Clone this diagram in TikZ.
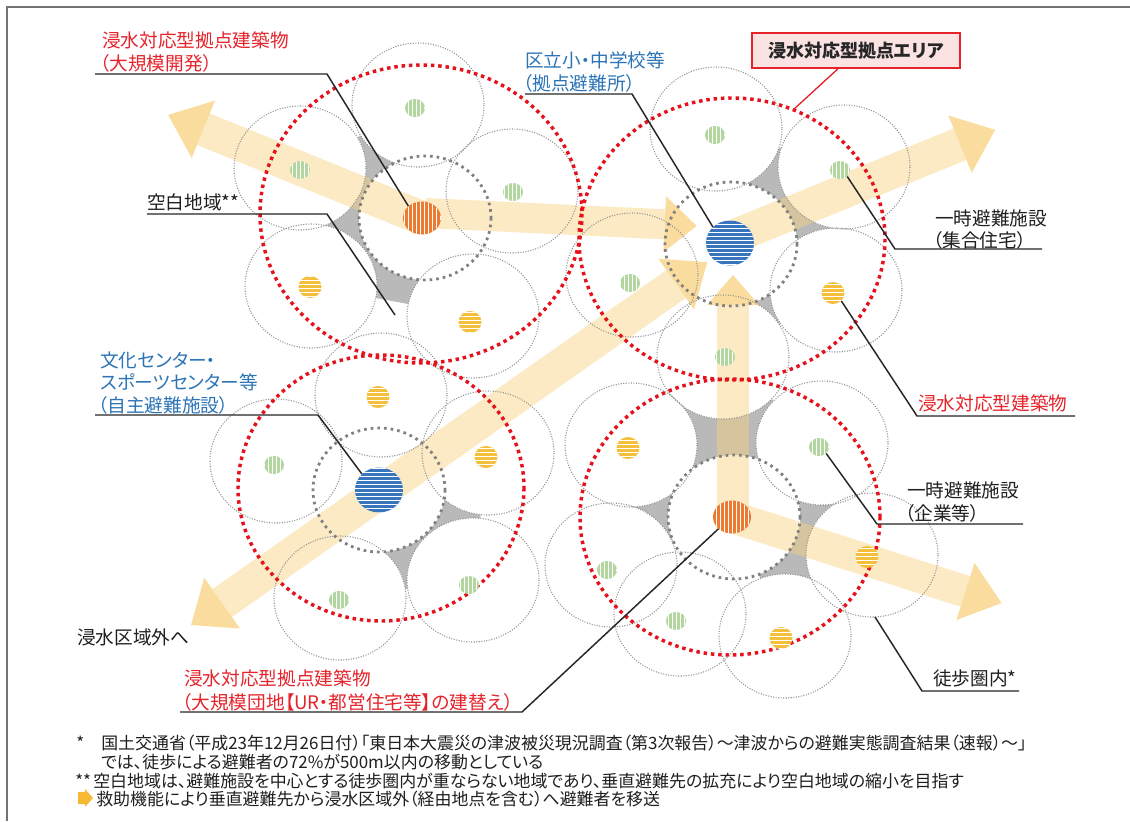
\documentclass[tikz,border=0pt]{standalone}
\usepackage{fontspec}
\newfontfamily\jp[RawFeature=+palt]{Noto Sans CJK JP}
\usetikzlibrary{patterns,shapes.geometric}
\definecolor{rd}{HTML}{E5121C}
\definecolor{lblred}{HTML}{E6232B}
\definecolor{lblblue}{HTML}{2C74B5}
\definecolor{arrc}{HTML}{F9D27E}
\definecolor{gapg}{HTML}{B9B9B9}
\definecolor{grn}{HTML}{B3D6A0}
\definecolor{ylw}{HTML}{F4BF3A}
\definecolor{org}{HTML}{EC7A30}
\definecolor{blu}{HTML}{3775BD}
\definecolor{boxpink}{HTML}{FBE3E3}
\tikzset{
  lightc/.style={draw=black!42, line width=0.8pt, dash pattern=on 0.8pt off 1.1pt},
  darkc/.style={draw=black!50, line width=2.1pt, dash pattern=on 2pt off 3pt},
  redc/.style={draw=rd, line width=2.6pt, dash pattern=on 2.6pt off 2.9pt},
  yshaft/.style={fill=arrc, fill opacity=0.45},
  yhead/.style={fill=arrc, fill opacity=0.75},
  dotbase/.style={ellipse, inner sep=0pt, draw=none},
  dotG/.style={dotbase, minimum width=15pt, minimum height=13.5pt, fill=grn, postaction={pattern=vertical lines, pattern color=white}},
  dotY/.style={dotbase, minimum width=17.25pt, minimum height=16.5pt, fill=ylw, postaction={pattern=horizontal lines, pattern color=white}},
  dotO/.style={dotbase, minimum width=28.5pt, minimum height=24.75pt, fill=org, postaction={pattern=vertical lines, pattern color=white}},
  dotB/.style={dotbase, minimum width=36pt, minimum height=33.75pt, fill=blu, postaction={pattern=horizontal lines, pattern color=white}},
  lbl/.style={font=\jp\fontsize{14pt}{17pt}\selectfont, anchor=west, inner sep=0pt, text=black!88},
  fn/.style={font=\jp\fontsize{12.7pt}{15pt}\selectfont, anchor=west, inner sep=0pt, text=black!88},
  leader/.style={draw=black!85, line width=1.1pt},
}
% start, angle, length, shaft half width, head half width, head length
\newcommand\yarr[6]{%
  \begin{scope}[shift={(#1)},rotate=#2]
    \path[yshaft] (0,-#4) -- ({#3-#6},-#4) -- ({#3-#6},#4) -- (0,#4) -- cycle;
    \path[yhead] ({#3-#6},-#5) -- (#3,0) -- ({#3-#6},#5) -- cycle;
  \end{scope}}
\newcommand\yarrd[6]{%
  \begin{scope}[shift={(#1)},rotate=#2]
    \path[yshaft] (#6,-#4) -- ({#3-#6},-#4) -- ({#3-#6},#4) -- (#6,#4) -- cycle;
    \path[yhead] ({#3-#6},-#5) -- (#3,0) -- ({#3-#6},#5) -- cycle;
    \path[yhead] (#6,-#5) -- (0,0) -- (#6,#5) -- cycle;
  \end{scope}}
\begin{document}
\begin{tikzpicture}[x=0.75pt,y=-0.75pt]
\useasboundingbox (0,0) rectangle (1130,821);
\fill[white] (0,0) rectangle (1130,821);
% frame
\draw[black!55, line width=1.1pt] (7,821) -- (7,7) -- (1130,7);

% gaps
\fill[gapg] (300,168) -- (418,105) -- (425,218) -- cycle;
\fill[gapg] (300,168) -- (425,218) -- (311,286) -- cycle;
\fill[gapg] (311,286) -- (425,218) -- (473,316) -- cycle;
\fill[gapg] (716,129) -- (844,167) -- (731,244) -- cycle;
\fill[gapg] (844,167) -- (731,244) -- (836,290) -- cycle;
\fill[gapg] (731,244) -- (836,290) -- (723,357) -- cycle;
\fill[gapg] (723,357) -- (822,443) -- (734,517) -- (631,445) -- cycle;
\fill[gapg] (631,445) -- (734,517) -- (611,565) -- cycle;
\fill[gapg] (822,443) -- (734,517) -- (872,555) -- cycle;
\fill[gapg] (734,517) -- (872,555) -- (785,636) -- cycle;
\fill[gapg] (379,490) -- (340,598) -- (473,580) -- cycle;
\fill[gapg] (379,490) -- (488,453) -- (473,580) -- cycle;

% white fills
\foreach \cx/\cy in {418/105,300/168,512/191,311/286,473/316,716/129,844/167,632/275,836/290,723/357,381/395,276/461,488/453,340/598,473/580,631/445,822/443,611/565,680/614,785/636,872/555,425/218,731/244,379/490,734/517}
  \fill[white] (\cx,\cy) ellipse [x radius=66, y radius=62];

% arrows
\yarr{422,218}{157.9}{274}{17}{31}{38}
\yarr{425,213}{-2.7}{272}{15}{28}{32}
\yarr{735,236}{22.2}{281}{17}{31}{38}
\yarrd{191,625}{35.1}{631}{17}{31}{38}
\yarr{733,517}{90}{242}{16}{26}{30}
\yarr{732,517}{-17.7}{283}{16}{30}{38}

% walking circles
\foreach \cx/\cy in {418/105,300/168,512/191,311/286,473/316,716/129,844/167,632/275,836/290,723/357,381/395,276/461,488/453,340/598,473/580,631/445,822/443,611/565,680/614,785/636,872/555}
  \draw[lightc] (\cx,\cy) ellipse [x radius=66, y radius=62];
\foreach \cx/\cy in {425/218,731/244,379/490,734/517}
  \draw[darkc] (\cx,\cy) ellipse [x radius=66, y radius=62];

% red areas
\draw[redc] (421,214) ellipse [x radius=161, y radius=149];
\draw[redc] (732,239) ellipse [x radius=153, y radius=141];
\draw[redc] (381,488) ellipse [x radius=143, y radius=133];
\draw[redc] (730,517) ellipse [x radius=150, y radius=138];

% dots
\node[dotG] (g1) at (415,108) {};
\node[dotG] (g2) at (300,170) {};
\node[dotG] (g3) at (513,192) {};
\node[dotG] (g4) at (715,135) {};
\node[dotG] (g5) at (840,170) {};
\node[dotG] (g6) at (630,283) {};
\node[dotG] (g7) at (725,357) {};
\node[dotG] (g8) at (274,465) {};
\node[dotG] (g9) at (339,600) {};
\node[dotG] (g10) at (469,585) {};
\node[dotG] (g11) at (819,447) {};
\node[dotG] (g12) at (607,570) {};
\node[dotG] (g13) at (676,621) {};
\node[dotY] (y1) at (310,287) {};
\node[dotY] (y2) at (470,322) {};
\node[dotY] (y3) at (833,293) {};
\node[dotY] (y4) at (378,397) {};
\node[dotY] (y5) at (486,457) {};
\node[dotY] (y6) at (628,448) {};
\node[dotY] (y7) at (867,557) {};
\node[dotY] (y8) at (781,638) {};
\node[dotO] (o1) at (422,218) {};
\node[dotO] (o2) at (732,517) {};
\node[dotB] (b1) at (730,243) {};
\node[dotB] (b2) at (379,490) {};

% labels
\node[lbl, text=lblred] (l1a) at (102,40) {浸水対応型拠点建築物};
\node[lbl, text=lblred] (l1b) at (100,63) {（大規模開発）};
\coordinate (u1s) at (95,74); \coordinate (u1k) at (327,74);
\draw[leader] (u1s) -- (u1k) -- (o1.north west);

\node[lbl] (l2) at (147,202) {空白地域**};
\coordinate (u2s) at (147,214); \coordinate (u2k) at (327,214); \coordinate (u2e) at (395,315);
\draw[leader] (u2s) -- (u2k) -- (u2e);

\node[lbl, text=lblblue] (l3a) at (525,60) {区立小・中学校等};
\node[lbl, text=lblblue] (l3b) at (523,83) {（拠点避難所）};
\coordinate (u3s) at (525,94); \coordinate (u3k) at (632,94);
\draw[leader] (u3s) -- (u3k) -- (b1.north west);

\node[draw=lblred, line width=1.1pt, fill=boxpink, minimum width=156pt, minimum height=26.25pt, inner sep=0pt,
      font=\jp\bfseries\fontsize{13.5pt}{16pt}\selectfont, text=black!85] (box) at (856,50.5) {浸水対応型拠点エリア};
\coordinate (u4e) at (793,110);
\draw[draw=lblred, line width=1pt] ([xshift=-13.5pt]box.south) -- (u4e);

\node[lbl] (l5a) at (935,218) {一時避難施設};
\node[lbl] (l5b) at (933,240) {（集合住宅）};
\coordinate (u5s) at (1042,249); \coordinate (u5k) at (895,249);
\draw[leader] (u5s) -- (u5k) -- (g5.south east);

\node[lbl, text=lblred] (l6) at (918,403) {浸水対応型建築物};
\coordinate (u6s) at (1075,416); \coordinate (u6k) at (917,416);
\draw[leader] (u6s) -- (u6k) -- (y3.south east);

\node[lbl] (l7a) at (907,490) {一時避難施設};
\node[lbl] (l7b) at (905,513) {（企業等）};
\coordinate (u7s) at (1023,524); \coordinate (u7k) at (877,524);
\draw[leader] (u7s) -- (u7k) -- (g11.south east);

\node[lbl, text=lblblue] (l8a) at (100,360) {文化センター・};
\node[lbl, text=lblblue] (l8b) at (100,382) {スポーツセンター等};
\node[lbl, text=lblblue] (l8c) at (98,405) {（自主避難施設）};
\coordinate (u8s) at (95,415); \coordinate (u8k) at (318,415);
\draw[leader] (u8s) -- (u8k) -- (b2.north west);

\node[lbl] (l9) at (77,637) {浸水区域外へ};

\node[lbl, text=lblred] (l10a) at (184,678) {浸水対応型拠点建築物};
\node[lbl, text=lblred] (l10b) at (182,702) {（大規模団地【UR・都営住宅等】の建替え）};
\coordinate (u10s) at (180,712); \coordinate (u10k) at (522,712);
\draw[leader] (u10s) -- (u10k) -- (o2.south west);

\node[lbl] (l11) at (933,678) {徒歩圏内*};
\coordinate (u11s) at (1019,691); \coordinate (u11k) at (922,691); \coordinate (u11e) at (875,617);
\draw[leader] (u11s) -- (u11k) -- (u11e);

% footnotes
\node[fn] (f1s) at (76,743) {*};
\node[fn] (f1a) at (101,743) {国土交通省（平成23年12月26日付）「東日本大震災の津波被災現況調査（第3次報告）～津波からの避難実態調査結果（速報）～」};
\node[fn] (f1b) at (101,762) {では、徒歩による避難者の72\%が500m以内の移動としている};
\node[fn] (f2s) at (75,781) {**};
\node[fn] (f2a) at (93,781) {空白地域は、避難施設を中心とする徒歩圏内が重ならない地域であり、垂直避難先の拡充により空白地域の縮小を目指す};
\fill[ylw!90!orange] (78,792) -- (85,792) -- (85,789) -- (93,798) -- (85,807) -- (85,804) -- (78,804) -- cycle;
\node[fn] (f3a) at (96,799) {救助機能により垂直避難先から浸水区域外（経由地点を含む）へ避難者を移送};
\end{tikzpicture}
\end{document}
